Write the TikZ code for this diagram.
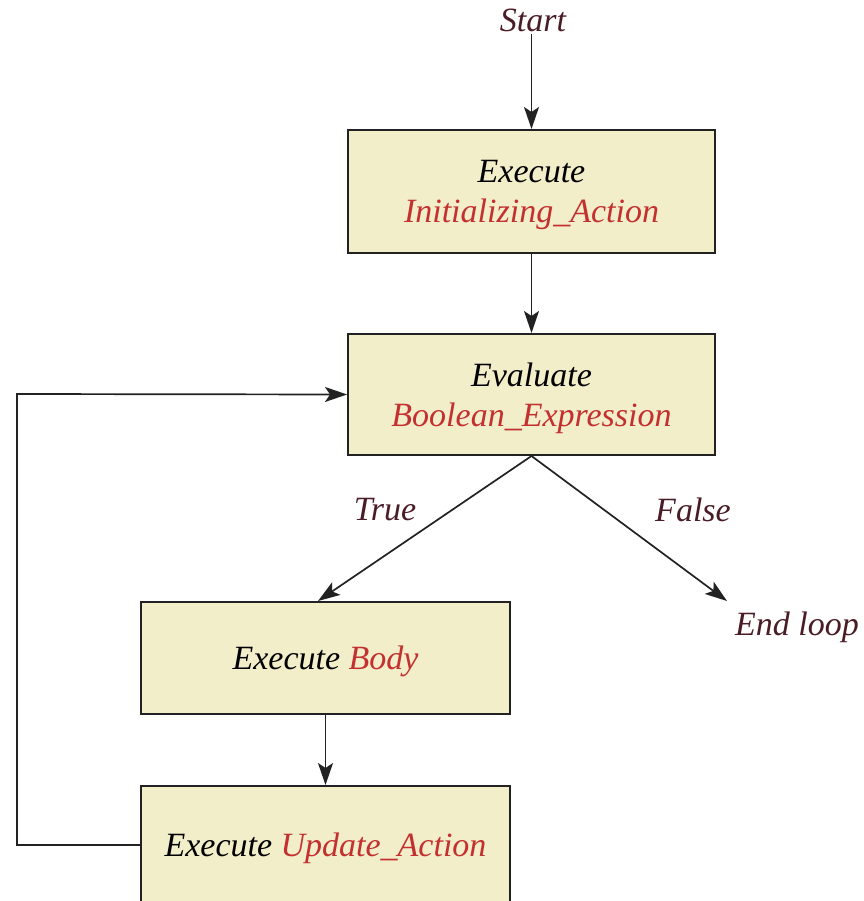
\documentclass[tikz,border=0pt]{standalone}
\usepackage{fontspec}
\setmainfont{Liberation Serif}
\usetikzlibrary{arrows.meta}
\definecolor{boxfill}{HTML}{F2EECA}
\definecolor{labelcol}{HTML}{4A1C26}
\definecolor{kwred}{HTML}{C3302F}
\definecolor{edgecol}{HTML}{222222}
\tikzset{
  stepbox/.style={draw=edgecol, line width=2pt, fill=boxfill, align=center, inner sep=0pt, text depth=0pt},
  lbl/.style={text=labelcol, inner sep=2pt},
  conn/.style={draw=edgecol, line width=1.7pt, -{Stealth[length=22pt,width=15pt,inset=5pt]}},
}
\begin{document}
\begin{tikzpicture}[x=1pt,y=-1pt, font=\fontsize{34}{40}\selectfont\itshape]
\useasboundingbox (0,0) rectangle (863,901);
\clip (0,0) rectangle (863,901);
\node[lbl] (start) at (533,20) {Start};
\node[stepbox, minimum width=367pt, minimum height=123pt] (init) at (531.5,191.5)
  {Execute\\\textcolor{kwred}{Initializing\_Action}};
\node[stepbox, minimum width=367pt, minimum height=121pt] (eval) at (531.5,394.5)
  {Evaluate\\\textcolor{kwred}{Boolean\_Expression}};
\node[stepbox, minimum width=369pt, minimum height=112pt] (body) at (325.5,658)
  {Execute \textcolor{kwred}{Body}};
\node[stepbox, minimum width=369pt, minimum height=118pt] (update) at (325.5,845)
  {Execute \textcolor{kwred}{Update\_Action}};
\node[lbl] (endloop) at (797,627) {End loop};
\node[lbl] (true) at (385,510) {True};
\node[lbl] (false) at (693,510) {False};
\coordinate (trueend) at (318,601);
\coordinate (falseend) at (727,601);
\coordinate (loopa) at (17,845);
\coordinate (loopb) at (17,394);
\draw[conn] (start.south -| init.north) -- (init.north);
\draw[conn] (init.south) -- (eval.north);
\draw[conn] (eval.south) -- (trueend);
\draw[conn] (eval.south) -- (falseend);
\draw[conn] (body.south) -- (update.north);
\draw[conn] (update.west) -- (loopa) -- (loopb) -- (eval.west);
\end{tikzpicture}
\end{document}
